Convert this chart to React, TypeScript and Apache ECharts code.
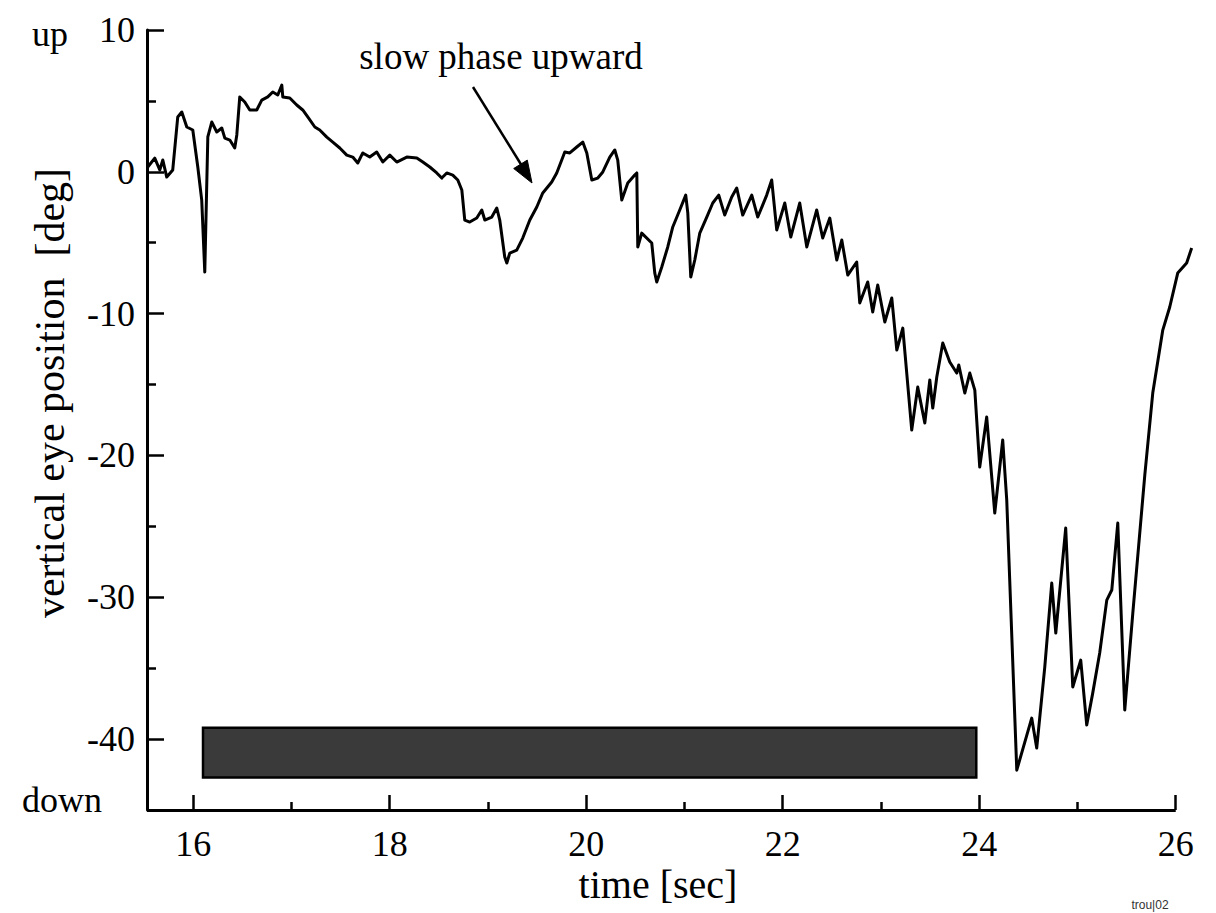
import React, { useEffect, useRef } from "react";
import * as echarts from "echarts";

// time [sec]
const time = [
  15.538, 15.609, 15.66, 15.691, 15.731, 15.792, 15.843, 15.884, 15.935, 15.996,
  16.047, 16.087, 16.118, 16.149, 16.189, 16.24, 16.291, 16.322, 16.373, 16.423,
  16.444, 16.474, 16.525, 16.576, 16.647, 16.698, 16.759, 16.81, 16.861, 16.902,
  16.912, 16.983, 17.054, 17.115, 17.166, 17.238, 17.288, 17.36, 17.421, 17.492,
  17.563, 17.624, 17.675, 17.726, 17.797, 17.868, 17.93, 18.001, 18.072, 18.174,
  18.276, 18.337, 18.408, 18.479, 18.53, 18.581, 18.642, 18.693, 18.734, 18.764,
  18.815, 18.886, 18.937, 18.968, 19.039, 19.09, 19.12, 19.171, 19.192, 19.222,
  19.293, 19.354, 19.426, 19.497, 19.558, 19.649, 19.7, 19.751, 19.782, 19.833,
  19.904, 19.965, 20.006, 20.057, 20.118, 20.169, 20.24, 20.291, 20.321, 20.362,
  20.423, 20.494, 20.515, 20.525, 20.565, 20.667, 20.698, 20.718, 20.769, 20.83,
  20.881, 20.952, 21.013, 21.034, 21.064, 21.105, 21.156, 21.227, 21.288, 21.349,
  21.41, 21.481, 21.532, 21.593, 21.685, 21.746, 21.837, 21.888, 21.939, 22.021,
  22.082, 22.173, 22.245, 22.346, 22.407, 22.479, 22.55, 22.601, 22.662, 22.753,
  22.784, 22.865, 22.916, 22.967, 23.039, 23.11, 23.161, 23.222, 23.313, 23.374,
  23.446, 23.497, 23.527, 23.568, 23.629, 23.7, 23.771, 23.792, 23.853, 23.904,
  23.955, 24.005, 24.076, 24.158, 24.239, 24.28, 24.382, 24.534, 24.585, 24.667,
  24.738, 24.779, 24.88, 24.952, 25.033, 25.094, 25.155, 25.226, 25.298, 25.349,
  25.41, 25.481, 25.563, 25.685, 25.766, 25.868, 25.939, 26.02, 26.111, 26.162,
];

// vertical eye position [deg]
const position = [
  0.34, 0.97, 0.13, 0.83, -0.37, 0.13, 3.87, 4.22, 3.16, 2.95,
  0.34, -2.0, -7.07, 2.46, 3.51, 2.81, 3.09, 2.38, 2.24, 1.68,
  2.6, 5.28, 4.92, 4.36, 4.36, 5.06, 5.28, 5.63, 5.42, 6.12,
  5.28, 5.21, 4.71, 4.36, 3.87, 3.16, 2.95, 2.45, 2.1, 1.68,
  1.18, 1.04, 0.62, 1.33, 1.04, 1.4, 0.69, 1.18, 0.69, 1.04,
  0.97, 0.69, 0.34, -0.08, -0.44, -0.08, -0.23, -0.58, -1.28, -3.4,
  -3.54, -3.26, -2.69, -3.4, -3.19, -2.55, -3.4, -6.01, -6.43, -5.73,
  -5.52, -4.67, -3.4, -2.48, -1.49, -0.72, -0.08, 0.83, 1.4, 1.33,
  1.75, 2.1, 1.33, -0.58, -0.44, -0.01, 1.04, 1.54, 0.83, -1.99,
  -0.79, -0.23, -0.08, -5.3, -4.32, -5.02, -7.14, -7.77, -6.71, -5.3,
  -3.89, -2.69, -1.64, -2.91, -7.42, -6.22, -4.32, -3.19, -2.2, -1.64,
  -3.05, -1.78, -1.14, -3.05, -1.64, -3.19, -1.64, -0.58, -4.1, -2.2,
  -4.6, -2.2, -5.3, -2.69, -4.67, -3.26, -6.22, -4.81, -7.28, -6.36,
  -9.25, -7.77, -9.89, -7.98, -10.59, -8.9, -12.57, -11.02, -18.21, -15.18,
  -17.71, -14.68, -16.66, -14.47, -12.07, -13.41, -14.19, -13.62, -15.6, -14.19,
  -15.39, -20.82, -17.29, -24.06, -18.91, -23.15, -42.19, -38.52, -40.63, -34.92,
  -29.0, -32.52, -25.12, -36.33, -34.43, -39.01, -36.76, -33.93, -30.2, -29.49,
  -24.77, -37.95, -31.11, -21.38, -15.6, -11.16, -9.53, -7.14, -6.43, -5.37,
];

const xMajorTicks = [16, 18, 20, 22, 24, 26];
const xMinorTicks = [17, 19, 21, 23, 25];
const yMajorTicks = [-40, -30, -20, -10, 0, 10];
const yMinorTicks = [-35, -25, -15, -5, 5];
const xAxisSpan = [15.53, 26];

// stimulus bar (time span and vertical extent)
const barTime = [16.1, 23.97];
const barLevel = [-39.2, -42.7];

const SERIF = "'Liberation Serif', 'Times New Roman', serif";

export default function App() {
  const ref = useRef<HTMLDivElement>(null);

  useEffect(() => {
    document.body.style.margin = "0";
    const chart = echarts.init(ref.current!, null, { renderer: "svg" });
    const xCommon = {
      type: "value" as const,
      min: 15.53,
      max: 26.2,
      position: "bottom",
      offset: 0,
      splitLine: { show: false },
      axisLine: { show: false, onZero: false },
    };
    const yCommon = {
      type: "value" as const,
      min: -45,
      max: 10,
      position: "left",
      offset: 0,
      splitLine: { show: false },
    };
    const option = {
      animation: false,
      backgroundColor: "#ffffff",
      grid: { left: 147, top: 30, right: 20.6, bottom: 103, containLabel: false },
      xAxis: [
        {
          ...xCommon,
          axisTick: {
            show: true,
            inside: true,
            length: 15,
            customValues: xMajorTicks,
            lineStyle: { color: "#000", width: 2.5 },
          },
          axisLabel: {
            show: true,
            customValues: xMajorTicks,
            margin: 16,
            fontSize: 36,
            fontFamily: SERIF,
            color: "#000",
          },
        },
        {
          ...xCommon,
          axisTick: {
            show: true,
            inside: true,
            length: 8,
            customValues: xMinorTicks,
            lineStyle: { color: "#000", width: 2.5 },
          },
          axisLabel: { show: false },
        },
      ],
      yAxis: [
        {
          ...yCommon,
          axisLine: { show: true, onZero: false, lineStyle: { color: "#000", width: 3 } },
          axisTick: {
            show: true,
            inside: true,
            length: 17,
            customValues: yMajorTicks,
            lineStyle: { color: "#000", width: 2.5 },
          },
          axisLabel: {
            show: true,
            customValues: yMajorTicks,
            margin: 12,
            fontSize: 36,
            fontFamily: SERIF,
            color: "#000",
          },
        },
        {
          ...yCommon,
          axisLine: { show: false, onZero: false },
          axisTick: {
            show: true,
            inside: true,
            length: 9,
            customValues: yMinorTicks,
            lineStyle: { color: "#000", width: 2.5 },
          },
          axisLabel: { show: false },
        },
      ],
      series: [
        {
          type: "line",
          xAxisIndex: 0,
          yAxisIndex: 0,
          data: time.map((t, i) => [t, position[i]]),
          symbol: "none",
          clip: false,
          lineStyle: { color: "#000", width: 3, join: "round" },
          markArea: {
            silent: true,
            itemStyle: { color: "#3a3a3a", borderColor: "#000", borderWidth: 2.5 },
            data: [[{ coord: [barTime[0], barLevel[0]] }, { coord: [barTime[1], barLevel[1]] }]],
          },
          markLine: {
            silent: true,
            symbol: ["none", "none"],
            label: { show: false },
            lineStyle: { color: "#000", width: 3, type: "solid" },
            data: [[{ coord: [xAxisSpan[0], -45] }, { coord: [xAxisSpan[1], -45] }]],
          },
        },
      ],
      graphic: [
        {
          type: "text",
          x: 50,
          y: 34,
          style: { text: "up", font: `36px ${SERIF}`, fill: "#000", align: "center", verticalAlign: "middle" },
        },
        {
          type: "text",
          x: 62,
          y: 800,
          style: { text: "down", font: `36px ${SERIF}`, fill: "#000", align: "center", verticalAlign: "middle" },
        },
        {
          type: "text",
          x: 50,
          y: 393,
          rotation: Math.PI / 2,
          style: {
            text: "vertical eye position  [deg]",
            font: `42px ${SERIF}`,
            fill: "#000",
            align: "center",
            verticalAlign: "middle",
          },
        },
        {
          type: "text",
          x: 658,
          y: 884,
          style: { text: "time [sec]", font: `40px ${SERIF}`, fill: "#000", align: "center", verticalAlign: "middle" },
        },
        {
          type: "text",
          x: 501,
          y: 56,
          style: { text: "slow phase upward", font: `37px ${SERIF}`, fill: "#000", align: "center", verticalAlign: "middle" },
        },
        {
          type: "line",
          shape: { x1: 473, y1: 87, x2: 522, y2: 166 },
          style: { stroke: "#000", lineWidth: 2.5 },
        },
        {
          type: "polygon",
          shape: { points: [[532, 183], [527.3, 160.1], [513.7, 168.5]] },
          style: { fill: "#000", stroke: "#000", lineWidth: 1 },
        },
        {
          type: "text",
          x: 1150,
          y: 905,
          style: { text: "trou|02", font: "12px 'Liberation Sans', sans-serif", fill: "#333", align: "center", verticalAlign: "middle" },
        },
      ],
    };
    chart.setOption(option);
    return () => chart.dispose();
  }, []);

  return <div ref={ref} style={{ width: 1216, height: 913 }} />;
}
